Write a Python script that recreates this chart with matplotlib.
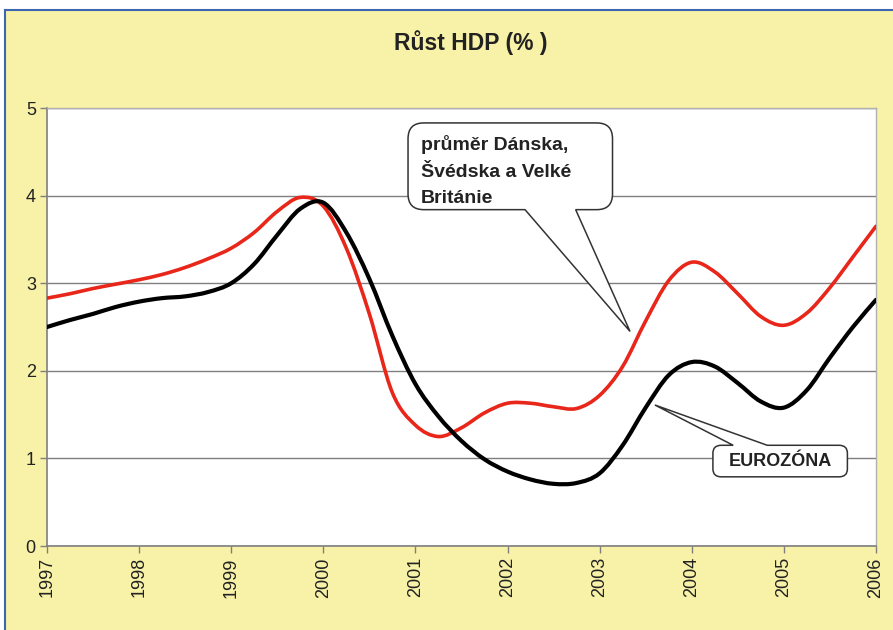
import matplotlib
matplotlib.use("Agg")
import matplotlib.pyplot as plt
import numpy as np
from matplotlib.lines import Line2D
from matplotlib.patches import PathPatch, Rectangle
from matplotlib.path import Path

# quarterly GDP growth (%), 1997 Q1 .. 2006 Q1
YEARS = np.arange(1997.0, 2006.01, 0.25)
EUROZONE = [
    2.50, 2.58, 2.65, 2.73, 2.79, 2.83, 2.85, 2.90, 3.00, 3.22,
    3.55, 3.85, 3.92, 3.58, 3.05, 2.40, 1.85, 1.48, 1.20, 0.99,
    0.85, 0.76, 0.71, 0.72, 0.83, 1.15, 1.58, 1.95, 2.10, 2.05,
    1.86, 1.65, 1.58, 1.78, 2.15, 2.50, 2.81,
]
DK_SE_UK = [
    2.83, 2.88, 2.94, 2.99, 3.04, 3.10, 3.18, 3.28, 3.40, 3.58,
    3.82, 3.98, 3.88, 3.40, 2.65, 1.75, 1.38, 1.25, 1.35, 1.52,
    1.63, 1.63, 1.59, 1.57, 1.72, 2.05, 2.57, 3.03, 3.24, 3.13,
    2.88, 2.62, 2.52, 2.66, 2.95, 3.30, 3.65,
]
YEAR_TICKS = list(range(1997, 2007))
VALUE_TICKS = [0, 1, 2, 3, 4, 5]

BG = "#f8f2a8"
BORDER = "#3c67b0"
GRID = "#7f7f7f"
RED = "#e8261a"
INK = "#222222"
FONT = ["Liberation Sans", "DejaVu Sans"]


def smooth_path(x, y):
    # Catmull-Rom through the points, written as cubic Bezier segments
    p = np.column_stack([x, y]).astype(float)
    ext = np.vstack([p[0], p, p[-1]])
    verts = [p[0]]
    codes = [Path.MOVETO]
    for i in range(len(p) - 1):
        p0, p1, p2, p3 = ext[i], ext[i + 1], ext[i + 2], ext[i + 3]
        verts += [p1 + (p2 - p0) / 6.0, p2 - (p3 - p1) / 6.0, p2]
        codes += [Path.CURVE4] * 3
    return Path(verts, codes)


def callout(ax, x0, x1, y0, y1, base, tip, side, rx, ry):
    ba, bb = base
    v, c = [], []

    def add(pt, code):
        v.append(pt)
        c.append(code)

    add((x0 + rx, y1), Path.MOVETO)
    if side == "top":
        add((ba, y1), Path.LINETO)
        add(tip, Path.LINETO)
        add((bb, y1), Path.LINETO)
    add((x1 - rx, y1), Path.LINETO)
    add((x1, y1), Path.CURVE3)
    add((x1, y1 - ry), Path.CURVE3)
    add((x1, y0 + ry), Path.LINETO)
    add((x1, y0), Path.CURVE3)
    add((x1 - rx, y0), Path.CURVE3)
    if side == "bottom":
        add((bb, y0), Path.LINETO)
        add(tip, Path.LINETO)
        add((ba, y0), Path.LINETO)
    add((x0 + rx, y0), Path.LINETO)
    add((x0, y0), Path.CURVE3)
    add((x0, y0 + ry), Path.CURVE3)
    add((x0, y1 - ry), Path.LINETO)
    add((x0, y1), Path.CURVE3)
    add((x0 + rx, y1), Path.CURVE3)
    add((x0 + rx, y1), Path.CLOSEPOLY)
    ax.add_patch(PathPatch(Path(v, c), facecolor="white", edgecolor="#333333",
                           linewidth=1.1, zorder=5))


fig = plt.figure(figsize=(8.93, 6.3), dpi=100, facecolor="white")
fig.add_artist(Rectangle((0.0056, 0), 1.0, 0.984, transform=fig.transFigure,
                         facecolor=BG, edgecolor="none", zorder=0))
fig.add_artist(Line2D([0.0056, 0.0056], [0, 0.984], transform=fig.transFigure,
                      color=BORDER, linewidth=1.5))
fig.add_artist(Line2D([0.0056, 1.0], [0.984, 0.984], transform=fig.transFigure,
                      color=BORDER, linewidth=1.5))

ax = fig.add_axes([0.0526, 0.1333, 0.9283, 0.6952])
ax.set_facecolor("white")
ax.set_xlim(1997, 2006)
ax.set_ylim(0, 5)

ax.set_yticks(VALUE_TICKS)
ax.set_yticklabels([str(t) for t in VALUE_TICKS], fontsize=13, color=INK, family=FONT)
ax.set_xticks(YEAR_TICKS)
ax.set_xticklabels([str(t) for t in YEAR_TICKS], rotation=90, fontsize=13,
                   color=INK, family=FONT)
ax.tick_params(direction="out", length=5, width=1, color=GRID, pad=3)
ax.grid(axis="y", color=GRID, linewidth=1.0)
ax.set_axisbelow(True)
for name, sp in ax.spines.items():
    sp.set_color(GRID if name in ("left", "bottom") else "#b0b0b0")
    sp.set_linewidth(1.2 if name in ("left", "bottom") else 1.0)

ax.add_patch(PathPatch(smooth_path(YEARS, DK_SE_UK), fill=False, edgecolor=RED,
                       linewidth=2.6, capstyle="round", joinstyle="round", zorder=3))
ax.add_patch(PathPatch(smooth_path(YEARS, EUROZONE), fill=False, edgecolor="black",
                       linewidth=3.0, capstyle="round", joinstyle="round", zorder=4))

callout(ax, 2000.92, 2003.14, 3.84, 4.83, (2002.19, 2002.74), (2003.33, 2.45),
        "bottom", 0.17, 0.18)
ax.text(2001.06, 4.28, "průměr Dánska,\nŠvédska a Velké\nBritánie", fontsize=14,
        fontweight="bold", color=INK, family=FONT, va="center", ha="left",
        linespacing=1.75, zorder=6)

callout(ax, 2004.23, 2005.69, 0.79, 1.15, (2004.45, 2004.82), (2003.60, 1.61),
        "top", 0.09, 0.09)
ax.text(2004.96, 0.965, "EUROZÓNA", fontsize=13, fontweight="bold", color=INK,
        family=FONT, va="center", ha="center", zorder=6)

fig.text(0.527, 0.933, "Růst HDP (% )", fontsize=16.5, fontweight="bold", color=INK,
         family=FONT, ha="center", va="center")

fig.savefig("out.png", dpi=100, facecolor="white")
